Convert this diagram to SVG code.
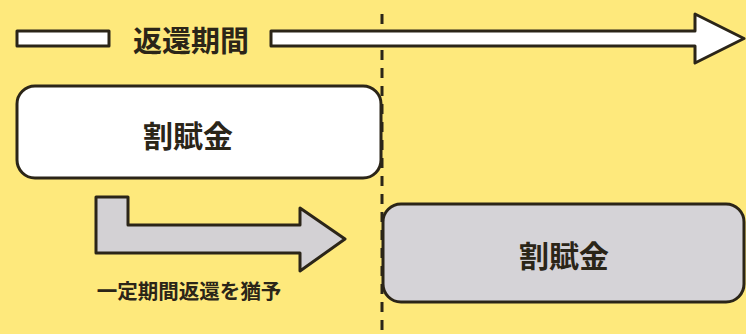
<svg xmlns="http://www.w3.org/2000/svg" width="746" height="334" viewBox="0 0 746 334">
<style>
.bg{fill:#FEE97C}
.ln{stroke:#2b2518;stroke-width:3;stroke-linejoin:round}
.t{font-family:"Noto Sans CJK JP","Noto Sans CJK SC",sans-serif;font-weight:bold;fill:#2b2518;text-anchor:middle;dominant-baseline:central}
</style>
<rect class="bg" x="0" y="0" width="746" height="334"/>
<g id="connectors">
<line x1="382" y1="14" x2="382" y2="334" stroke="#2b2518" stroke-width="3" stroke-dasharray="10,8"/>
<rect id="bar-left" class="ln" x="17" y="31" width="92" height="15" fill="#ffffff"/>
<path id="period-arrow" class="ln" fill="#ffffff" d="M271,31 H695 V14 L744,38.5 L695,63 V46 H271 Z"/>
<path id="defer-arrow" class="ln" fill="#D3D1D4" d="M96,197 H128 V225 H300 V208 L345,239 L300,271 V253 H96 Z"/>
</g>
<g id="label-period"><text class="t" x="191" y="39" font-size="29">返還期間</text></g>
<g id="box1">
<rect class="ln" x="17" y="86" width="364" height="92" rx="18" fill="#ffffff"/>
<text class="t" x="188" y="134" font-size="30">割賦金</text>
</g>
<g id="box2">
<rect class="ln" x="383" y="204" width="361" height="98" rx="18" fill="#D5D3D7"/>
<text class="t" x="564" y="254" font-size="30">割賦金</text>
</g>
<g id="label-defer"><text class="t" x="189" y="290" font-size="20.5">一定期間返還を猶予</text></g>
</svg>
